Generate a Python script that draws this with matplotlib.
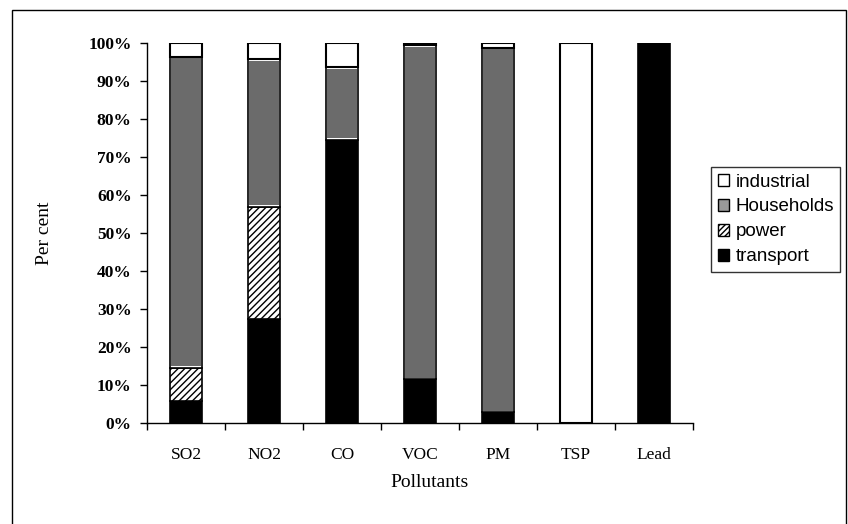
import matplotlib.pyplot as plt
import matplotlib.patches as mpatches
from matplotlib.ticker import FixedLocator, FuncFormatter
import numpy as np

# data (percent shares)
categories = ['SO2', 'NO2', 'CO', 'VOC', 'PM', 'TSP', 'Lead']
transport = [5.7, 27.5, 74.6, 11.5, 2.8, 0.0, 100.0]
power = [8.9, 29.4, 0.0, 0.0, 0.0, 0.0, 0.0]
households = [81.8, 38.9, 19.1, 88.0, 96.0, 0.0, 0.0]
industrial = [3.6, 4.2, 6.3, 0.5, 1.2, 100.0, 0.0]
yticks = [0, 10, 20, 30, 40, 50, 60, 70, 80, 90, 100]

serif = 'Liberation Serif'
sans = 'Liberation Sans'
grey = '#6b6b6b'

fig = plt.figure(figsize=(8.48, 5.24), dpi=100)
ax = fig.add_axes([147/848, (524-423)/524, (693-147)/848, (423-43)/524])

x = np.arange(len(categories))
w = 0.41
bot = np.zeros(len(categories))
hh = np.array(households)

ax.bar(x, transport, w, bottom=bot, color='black', edgecolor='black', lw=1.2)
bot += transport
ax.bar(x, power, w, bottom=bot, color='white', edgecolor='black', hatch='/////', lw=1.2)
bot += power
# households: stippled grey with a thin white rim inside the black outline
ax.bar(x, households, w, bottom=bot, color='white', edgecolor='black', lw=1.2)
ax.bar(x, np.where(hh > 0, hh - 0.9, 0), w - 0.035, bottom=bot + 0.45,
       color=grey, edgecolor='none')
bot += households
ax.bar(x, industrial, w, bottom=bot, color='white', edgecolor='black', lw=1.5)

ax.set_xlim(-0.5, len(categories)-0.5)
ax.set_ylim(0, 100)

ax.spines['top'].set_visible(False)
ax.spines['right'].set_visible(False)
ax.spines['left'].set_linewidth(1.0)
ax.spines['bottom'].set_linewidth(1.0)

ax.set_yticks(yticks)
ax.yaxis.set_major_formatter(FuncFormatter(lambda v, p: '%d%%' % v))
ax.tick_params(axis='y', direction='out', length=5, width=1, pad=6,
               labelsize=12.5)
for t in ax.get_yticklabels():
    t.set_fontfamily(serif)
    t.set_fontweight('bold')

ax.set_xticks(x)
ax.set_xticklabels(categories, fontfamily=serif, fontsize=12.5)
ax.xaxis.set_minor_locator(FixedLocator(np.arange(len(categories)+1) - 0.5))
ax.tick_params(axis='x', which='major', length=0, pad=17)
ax.tick_params(axis='x', which='minor', direction='out', length=5, width=1)

ax.set_xlabel('Pollutants', fontfamily=serif, fontsize=14)
ax.xaxis.set_label_coords((430-147)/546, (423-474)/380)
ax.set_ylabel('Per cent', fontfamily=serif, fontsize=14)
ax.yaxis.set_label_coords((53-147)/546, 0.5)

# legend
handles = [
    mpatches.Patch(facecolor='white', edgecolor='black', label='industrial'),
    mpatches.Patch(facecolor='#9a9a9a', edgecolor='black', label='Households'),
    mpatches.Patch(facecolor='white', edgecolor='black', hatch='//////', label='power'),
    mpatches.Patch(facecolor='black', edgecolor='black', label='transport'),
]
leg = fig.legend(handles=handles, loc='upper left', bbox_to_anchor=(711/848, 1-167/524),
                 prop={'family': sans, 'size': 13.5}, frameon=True, fancybox=False,
                 handlelength=0.6, handleheight=0.6, handletextpad=0.35,
                 labelspacing=0.42, borderpad=0.35, borderaxespad=0)
leg.get_frame().set_edgecolor('black')
leg.get_frame().set_linewidth(1.0)

# outer chart-area border
fig.add_artist(mpatches.Rectangle((12/848, -0.02), (846-12)/848, 1.02-10/524,
                                  transform=fig.transFigure, fill=False,
                                  edgecolor='black', lw=1.0))

plt.savefig('out.png', dpi=100)
